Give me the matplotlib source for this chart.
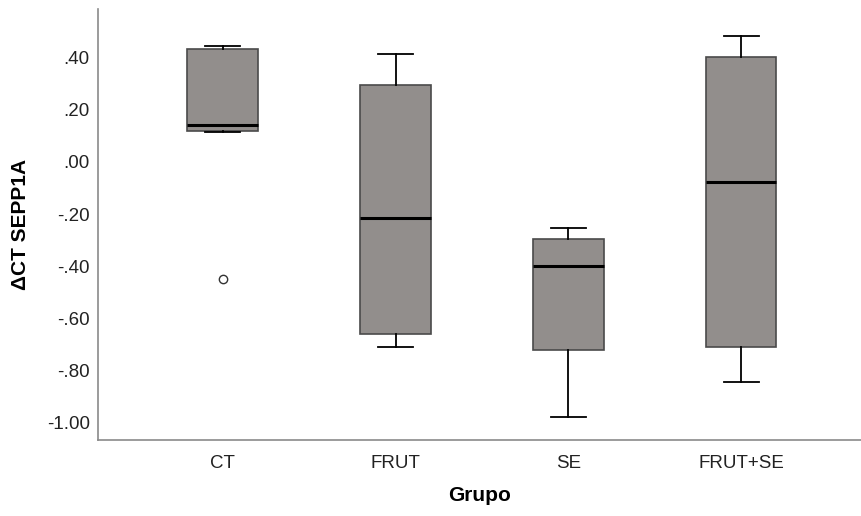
import numpy as np
import matplotlib.pyplot as plt

plt.rcParams['font.family'] = ['Liberation Sans', 'DejaVu Sans']

grupos = ['CT', 'FRUT', 'SE', 'FRUT+SE']
whislo = [0.115, -0.71, -0.98, -0.845]
q1 = [0.12, -0.66, -0.72, -0.71]
med = [0.14, -0.215, -0.40, -0.078]
q3 = [0.432, 0.296, -0.296, 0.403]
whishi = [0.445, 0.415, -0.253, 0.484]
fliers = [[-0.45], [], [], []]

stats = []
for i in range(len(grupos)):
    stats.append({'label': grupos[i], 'whislo': whislo[i], 'q1': q1[i], 'med': med[i],
                  'q3': q3[i], 'whishi': whishi[i], 'fliers': fliers[i]})

fig = plt.figure(figsize=(8.61, 5.16), dpi=100)
ax = fig.add_axes([0.1138, 0.1473, 0.886, 0.8353])

ax.bxp(stats, positions=range(len(grupos)), widths=0.405, patch_artist=True,
       boxprops=dict(facecolor='#928e8c', edgecolor='#4a4a4a', linewidth=1.2),
       medianprops=dict(color='black', linewidth=2.2),
       whiskerprops=dict(color='black', linewidth=1.3),
       capprops=dict(color='black', linewidth=1.3),
       capwidths=0.2,
       flierprops=dict(marker='o', markerfacecolor='white', markeredgecolor='#333333',
                       markersize=6, markeredgewidth=1))

ax.set_xlim(-0.72, 3.69)
ax.set_ylim(-1.067, 0.587)
yt = [0.4, 0.2, 0.0, -0.2, -0.4, -0.6, -0.8, -1.0]
ax.set_yticks(yt)
# formato SPSS: sin cero inicial
ax.set_yticklabels([('-' if v < 0 else '') + ('%.2f' % abs(v)).lstrip('0') if abs(v) < 1 else '%.2f' % v for v in yt])
ax.set_xticks(range(len(grupos)))
ax.set_xticklabels(grupos)
ax.tick_params(length=0, labelsize=13.5, colors='#222222')
ax.tick_params(axis='x', pad=11)
ax.tick_params(axis='y', pad=6)

for s in ['top', 'right']:
    ax.spines[s].set_visible(False)
for s in ['left', 'bottom']:
    ax.spines[s].set_color('#8a8a8a')
    ax.spines[s].set_linewidth(1.2)

ax.set_ylabel('ΔCT SEPP1A', fontsize=15, fontweight='bold', labelpad=12)
ax.set_xlabel('Grupo', fontsize=15, fontweight='bold', labelpad=10)

fig.savefig('out.png', dpi=100)
